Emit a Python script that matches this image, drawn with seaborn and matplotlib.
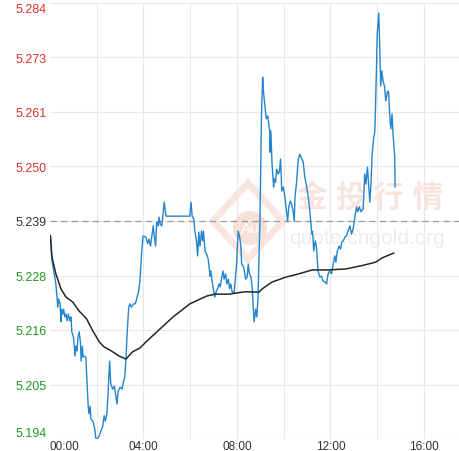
import matplotlib
matplotlib.use("Agg")
import matplotlib.pyplot as plt
import matplotlib.patches as mpatches
import seaborn as sns

# previous close and y tick spacing
prev_close = 5.2392
tick_step = 0.01125
ytick_labels = ["5.194", "5.205", "5.216", "5.228", "5.239", "5.250", "5.261", "5.273", "5.284"]
xtick_labels = ["00:00", "", "04:00", "", "08:00", "", "12:00", "", "16:00"]

# minutes since 00:00
price_minutes = [1, 5, 11, 15, 18, 20, 22, 26, 28, 30,
                 33, 35, 38, 41, 44, 47, 51, 54, 56, 60,
                 62, 64, 67, 69, 72, 75, 78, 80, 83, 85,
                 89, 92, 95, 98, 100, 103, 105, 110, 114, 118,
                 122, 126, 131, 135, 139, 142, 146, 149, 153, 156,
                 161, 165, 169, 172, 175, 180, 185, 189, 192, 195,
                 198, 202, 205, 209, 214, 219, 227, 231, 235, 239,
                 246, 251, 254, 258, 262, 265, 268, 271, 274, 278,
                 280, 283, 287, 291, 293, 298, 359, 362, 365, 369,
                 372, 376, 379, 382, 385, 389, 392, 394, 398, 402,
                 406, 411, 413, 416, 420, 423, 426, 430, 434, 437,
                 441, 444, 447, 451, 454, 458, 461, 464, 468, 473,
                 479, 483, 487, 490, 492, 496, 499, 502, 506, 509,
                 512, 516, 519, 522, 524, 528, 531, 534, 539, 541,
                 543, 546, 548, 552, 555, 559, 560, 564, 565, 567,
                 570, 574, 576, 579, 582, 586, 589, 592, 595, 599,
                 603, 607, 610, 613, 617, 620, 624, 627, 629, 633,
                 637, 641, 650, 654, 659, 663, 667, 672, 674, 677,
                 681, 684, 688, 693, 697, 701, 706, 710, 714, 718,
                 723, 727, 731, 734, 737, 742, 746, 749, 753, 757,
                 761, 765, 770, 774, 778, 783, 787, 790, 794, 798,
                 804, 808, 811, 815, 819, 821, 824, 827, 830, 834,
                 838, 840, 844, 847, 849, 852, 855, 859, 862, 866,
                 869, 872, 875, 878, 881, 885, 886]
price_values = [5.2362, 5.2310, 5.2283, 5.2262, 5.2235, 5.2214, 5.2231, 5.2221, 5.2184, 5.2210,
                5.2200, 5.2210, 5.2194, 5.2200, 5.2186, 5.2200, 5.2186, 5.2194, 5.2163, 5.2153,
                5.2138, 5.2113, 5.2134, 5.2124, 5.2153, 5.2163, 5.2142, 5.2103, 5.2134, 5.2111,
                5.2113, 5.2111, 5.2062, 5.2010, 5.1994, 5.2010, 5.1983, 5.1979, 5.1967, 5.1942,
                5.1942, 5.1948, 5.1959, 5.1967, 5.1990, 5.1979, 5.1994, 5.2035, 5.2103, 5.2056,
                5.2045, 5.2051, 5.2031, 5.2014, 5.2041, 5.2049, 5.2045, 5.2062, 5.2070, 5.2107,
                5.2159, 5.2214, 5.2221, 5.2214, 5.2221, 5.2221, 5.2245, 5.2268, 5.2324, 5.2361,
                5.2359, 5.2345, 5.2355, 5.2340, 5.2365, 5.2382, 5.2359, 5.2340, 5.2390, 5.2382,
                5.2400, 5.2386, 5.2382, 5.2413, 5.2431, 5.2402, 5.2402, 5.2431, 5.2402, 5.2396,
                5.2371, 5.2351, 5.2320, 5.2369, 5.2340, 5.2371, 5.2351, 5.2371, 5.2330, 5.2324,
                5.2314, 5.2278, 5.2289, 5.2268, 5.2248, 5.2235, 5.2245, 5.2252, 5.2262, 5.2256,
                5.2276, 5.2289, 5.2272, 5.2283, 5.2262, 5.2272, 5.2252, 5.2262, 5.2245, 5.2245,
                5.2303, 5.2371, 5.2359, 5.2340, 5.2303, 5.2299, 5.2289, 5.2272, 5.2276, 5.2303,
                5.2283, 5.2276, 5.2256, 5.2210, 5.2184, 5.2210, 5.2194, 5.2235, 5.2392, 5.2510,
                5.2613, 5.2689, 5.2660, 5.2627, 5.2603, 5.2609, 5.2603, 5.2578, 5.2534, 5.2578,
                5.2510, 5.2462, 5.2479, 5.2472, 5.2499, 5.2489, 5.2495, 5.2520, 5.2454, 5.2462,
                5.2442, 5.2413, 5.2392, 5.2421, 5.2433, 5.2427, 5.2413, 5.2392, 5.2442, 5.2472,
                5.2516, 5.2530, 5.2514, 5.2483, 5.2462, 5.2442, 5.2413, 5.2365, 5.2371, 5.2330,
                5.2351, 5.2338, 5.2289, 5.2276, 5.2278, 5.2268, 5.2266, 5.2262, 5.2283, 5.2289,
                5.2283, 5.2303, 5.2320, 5.2307, 5.2328, 5.2340, 5.2334, 5.2349, 5.2351, 5.2359,
                5.2361, 5.2371, 5.2382, 5.2365, 5.2375, 5.2402, 5.2421, 5.2411, 5.2421, 5.2411,
                5.2417, 5.2489, 5.2468, 5.2503, 5.2454, 5.2431, 5.2468, 5.2530, 5.2557, 5.2578,
                5.2702, 5.2778, 5.2821, 5.2737, 5.2671, 5.2702, 5.2681, 5.2669, 5.2640, 5.2658,
                5.2660, 5.2613, 5.2582, 5.2613, 5.2567, 5.2524, 5.2462]

# average price line
avg_minutes = [1, 5, 15, 28, 41, 58, 75, 94, 110, 127, 139, 157, 178, 195, 212, 231, 246, 274,
               316, 359, 402, 423, 459, 502, 536, 545, 570, 605, 639, 673, 716, 759, 801, 836, 853, 883]
avg_values = [5.2362, 5.2318, 5.2283, 5.2252, 5.2235, 5.2225, 5.2206, 5.2190, 5.2165, 5.2142,
              5.2132, 5.2124, 5.2113, 5.2107, 5.2122, 5.2130, 5.2142, 5.2163, 5.2194, 5.2221,
              5.2237, 5.2241, 5.2241, 5.2246, 5.2245, 5.2252, 5.2266, 5.2276, 5.2283, 5.2291,
              5.2291, 5.2293, 5.2300, 5.2307, 5.2316, 5.2326]

sns.set_style("white")
plt.rcParams["font.family"] = ["Liberation Sans", "DejaVu Sans"]

W, H = 459, 452
fig = plt.figure(figsize=(W / 100, H / 100), dpi=100)
ax = fig.add_axes([50 / W, 12 / H, 409 / W, 436 / H])


def fx(px):
    return px / W


def fy(py):
    return 1 - py / H


# watermark
diamond = mpatches.Polygon([(fx(248), fy(184)), (fx(283), fy(222)), (fx(248), fy(260)), (fx(213), fy(222))],
                           closed=True, fill=False, edgecolor="#f9e6e0", lw=5,
                           transform=fig.transFigure, zorder=1)
ax.add_patch(diamond)
badge = mpatches.Ellipse((fx(250), fy(229)), 34 / W, 34 / H, facecolor="#f7e0d8",
                         edgecolor="none", transform=fig.transFigure, zorder=1)
ax.add_patch(badge)
ax.text(fx(250), fy(229), "Au", color="white", fontsize=11, ha="center", va="center",
        transform=fig.transFigure, zorder=1)
for ch, cx in zip("金投行情", [312, 350, 388, 428]):
    ax.text(fx(cx), fy(198), ch, color="#f7e4de", fontsize=22, fontweight="bold",
            family=["Noto Sans CJK SC", "DejaVu Sans"], ha="center", va="center",
            transform=fig.transFigure, zorder=1)
ax.text(fx(367), fy(239), "quote.cngold.org", color="#ececec", fontsize=15,
        ha="center", va="center", transform=fig.transFigure, zorder=1)

ax.axhline(prev_close, color="#999999", lw=0.9, ls=(0, (5, 3.5)), zorder=2)
sns.lineplot(x=price_minutes, y=price_values, ax=ax, color="#2585cc", lw=1.0,
             estimator=None, zorder=3)
sns.lineplot(x=avg_minutes, y=avg_values, ax=ax, color="#262626", lw=1.1,
             estimator=None, zorder=3)

ax.set_xlim(0, 1050)
ax.set_ylim(prev_close - 4 * tick_step, prev_close + 4 * tick_step)
ax.set_xticks(range(0, 961, 120))
ax.set_xticklabels(xtick_labels)
ax.set_yticks([prev_close + k * tick_step for k in range(-4, 5)])
ax.set_yticklabels(ytick_labels)
ax.set_xlabel("")
ax.set_ylabel("")

ax.grid(True, color="#e8e8e8", lw=0.8)
ax.get_xgridlines()[0].set_visible(False)
for s in ax.spines.values():
    s.set_visible(False)
ax.tick_params(length=0, labelsize=9)
ax.tick_params(axis="y", pad=2.5)
ax.tick_params(axis="x", pad=0.5, labelsize=8.5, labelcolor="#333333")

ylabels = ax.get_yticklabels()
for i, lab in enumerate(ylabels):
    k = i - 4
    lab.set_color("#e0302a" if k > 0 else ("#333333" if k == 0 else "#1f9a1f"))
ylabels[0].set_va("bottom")
ylabels[-1].set_va("top")
ax.get_xticklabels()[0].set_ha("left")

fig.savefig("out.png", dpi=100)
